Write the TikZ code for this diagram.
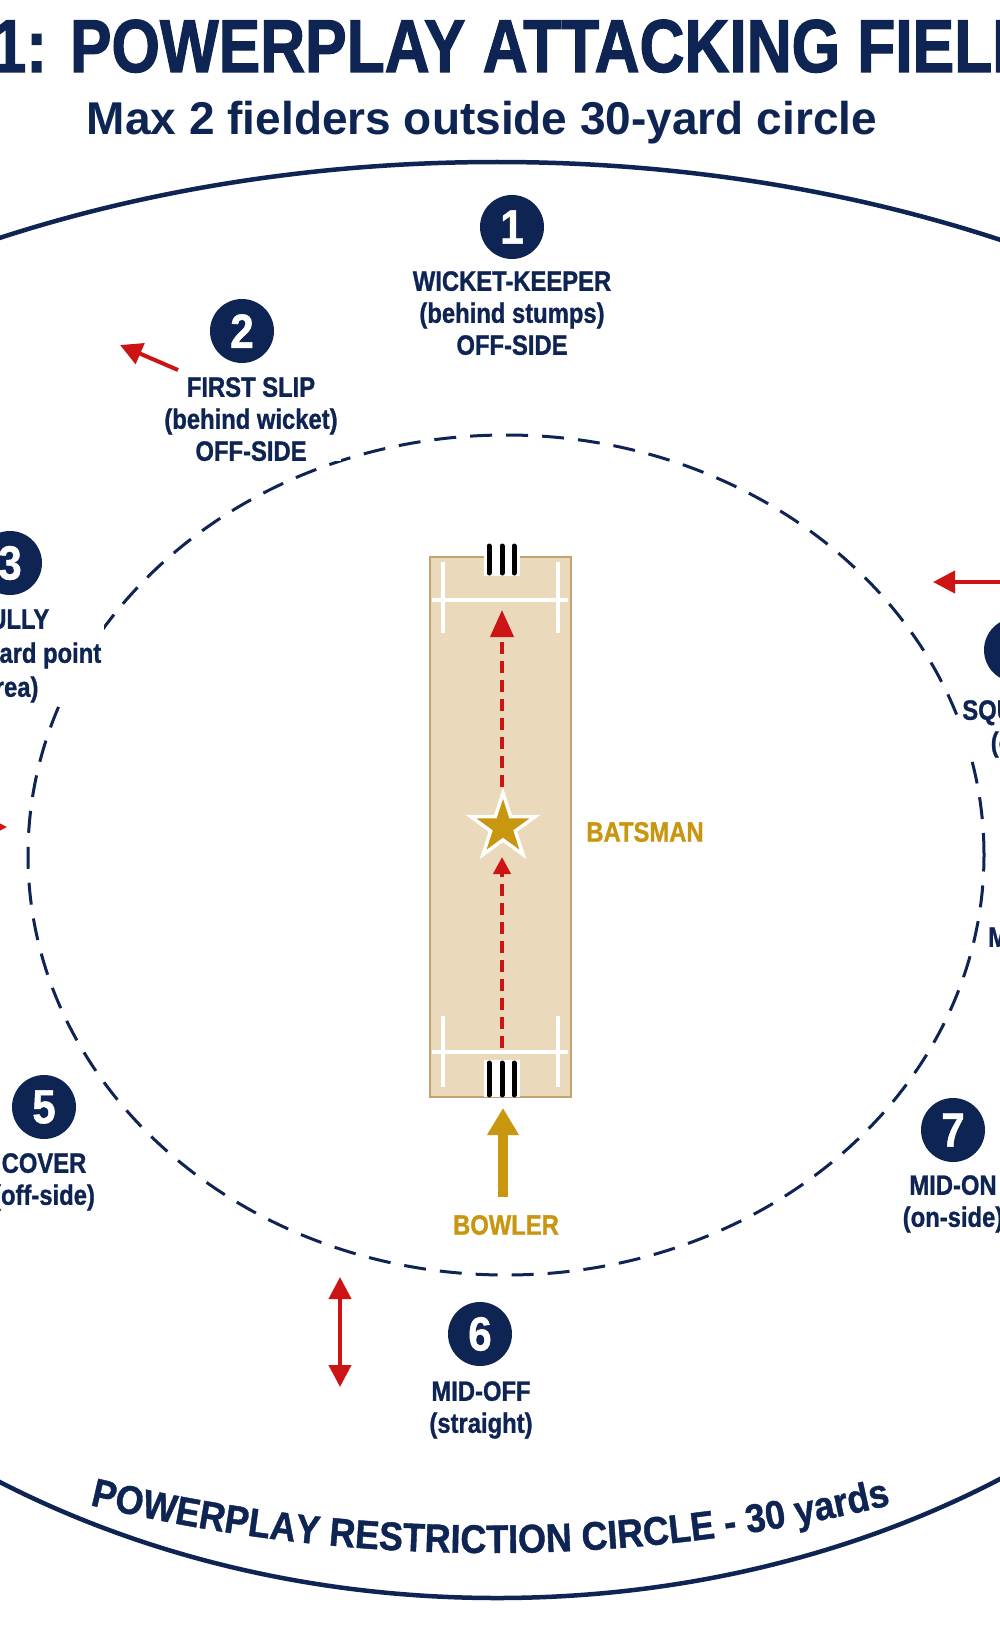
\documentclass[tikz,border=0pt]{standalone}
\usepackage{fontspec}
\usetikzlibrary{arrows.meta,shapes.geometric,decorations.text}
\newfontfamily\labfont[FakeStretch=0.85,FakeBold=1]{Liberation Sans}
\newfontfamily\titfont[FakeStretch=0.83,FakeBold=1.5]{Liberation Sans}
\newfontfamily\numfont[FakeStretch=0.88,FakeBold=1]{Liberation Sans}
\newfontfamily\botfont[FakeStretch=0.9,FakeBold=1]{Liberation Sans}
\newfontfamily\plainfont{Liberation Sans}
\definecolor{navy}{HTML}{0E2452}
\definecolor{fred}{HTML}{CC1414}
\definecolor{gold}{HTML}{C9960F}
\definecolor{pitchfill}{HTML}{EAD9BA}
\definecolor{pitchline}{HTML}{C3A46E}
\begin{document}
\begin{tikzpicture}[x=1pt,y=-1pt,
  numdot/.style={circle, fill=navy, text=white, minimum size=64pt, inner sep=0pt, font=\numfont\bfseries\fontsize{48}{48}\selectfont},
  flab/.style={anchor=north, inner xsep=3pt, inner ysep=0pt, fill=white, align=center, text=navy, font=\labfont\bfseries\fontsize{28}{32}\selectfont},
  goldlab/.style={inner sep=0pt, text=gold, font=\labfont\bfseries\fontsize{28}{32}\selectfont},
  redarrow/.style={draw=fred, line width=4pt, -{Triangle[length=22pt,width=22pt]}},
  reddash/.style={draw=fred, line width=4pt, dash pattern=on 12pt off 7pt},
  crease/.style={draw=white, line width=4pt},
  stumpbar/.style={draw=black, line width=5pt, line cap=round}
]
\useasboundingbox (0,0) rectangle (1000,1632);
\fill[white] (0,0) rectangle (1000,1632);
\clip (0,0) rectangle (1000,1632);

% title and subtitle
\node[anchor=base west, inner sep=0pt, text=navy, font=\titfont\bfseries\fontsize{75}{75}\selectfont] (title) at (-8.6,72) {1: POWERPLAY ATTACKING FIELD};
\node[anchor=base, inner sep=0pt, text=navy, font=\plainfont\bfseries\fontsize{46}{46}\selectfont] (sub) at (482,135) {Max 2 fielders outside 30-yard circle};

% outer boundary
\draw[navy, line width=4.5pt] (-613,880) arc[start angle=180, end angle=0, x radius=1110pt, y radius=718pt];
\draw[navy, line width=4.5pt] (1409,880) arc[start angle=0, end angle=-180, x radius=912pt, y radius=718pt];

% 30-yard circle
\draw[navy, line width=3pt, dash pattern=on 22pt off 14pt] (506,855) ellipse [x radius=478pt, y radius=420pt];

% boundary text
\path[decorate, decoration={text along path, text align=center, text color=navy,
  text={|\botfont\bfseries\fontsize{40}{40}\selectfont|POWERPLAY RESTRICTION CIRCLE - 30 yards}}]
  (490,-139) ++(-115:1692pt) arc[start angle=-115, end angle=-65, radius=1692pt];

% pitch
\node[draw=pitchline, fill=pitchfill, line width=2.5pt, minimum width=141pt, minimum height=540pt, inner sep=0pt] (pitch) at (500.5,827) {};
\draw[crease] (432,600) -- (568,600);
\draw[crease] (443,562) -- (443,633);
\draw[crease] (558,562) -- (558,633);
\draw[crease] (432,1052) -- (568,1052);
\draw[crease] (443,1016) -- (443,1087);
\draw[crease] (558,1016) -- (558,1087);
\fill[white] (484,544) rectangle (520,576);
\draw[stumpbar] (489,546) -- (489,573);
\draw[stumpbar] (502,546) -- (502,573);
\draw[stumpbar] (514,546) -- (514,573);
\fill[white] (484,1060) rectangle (520,1097);
\draw[stumpbar] (489,1063) -- (489,1095);
\draw[stumpbar] (502,1063) -- (502,1095);
\draw[stumpbar] (514,1063) -- (514,1095);

% ball path
\coordinate (r1s) at (502,1048);
\coordinate (r1e) at (502,857);
\coordinate (r2s) at (502,787);
\coordinate (r2e) at (502,610);
\draw[reddash, -{Triangle[length=17pt,width=17pt]}] (r1s) -- (r1e);
\draw[reddash, -{Triangle[length=27pt,width=23pt]}] (r2s) -- (r2e);

% batsman
\node[star, star points=5, star point ratio=2.618, minimum size=68pt, inner sep=0pt, fill=gold, draw=white, line width=3.5pt] (bat) at (503,827) {};
\node[goldlab] (batlab) at (645,832) {BATSMAN};

% bowler
\node[goldlab] (bowlab) at (506,1225) {BOWLER};
\coordinate (bws) at (503,1197);
\coordinate (bwe) at (503,1108);
\draw[gold, line width=10pt, -{Triangle[length=27pt,width=30pt]}] (bws) -- (bwe);

% fielders
\node[numdot] (f1) at (512,227) {1};
\node[flab] (l1) at (512,271) {WICKET-KEEPER\\(behind stumps)\\OFF-SIDE};
\node[numdot] (f2) at (242,331) {2};
\node[flab] (l2) at (251,377) {FIRST SLIP\\(behind wicket)\\OFF-SIDE};
\node[numdot] (f3) at (10,563) {3};
\node[flab, font=\labfont\bfseries\fontsize{28}{34}\selectfont] (l3) at (10,609) {GULLY\\(backward point\\area)};
\node[numdot] (f4) at (1016,650) {4};
\node[flab] (l4) at (1041,700) {SQUARE LEG\\(on-side)};
\node[numdot] (f5) at (44,1107) {5};
\node[flab] (l5) at (44,1153) {COVER\\(off-side)};
\node[numdot] (f6) at (480,1334) {6};
\node[flab] (l6) at (481,1381) {MID-OFF\\(straight)};
\node[numdot] (f7) at (953,1130) {7};
\node[flab] (l7) at (953,1175) {MID-ON\\(on-side)};
\node[flab, anchor=north west] (l8) at (985,927) {MID-WICKET};

% movement arrows
\coordinate (a2s) at (178,370);
\coordinate (a2e) at (120,345);
\draw[redarrow] (a2s) -- (a2e);
\coordinate (a3s) at (-40,827);
\coordinate (a3e) at (7,827);
\draw[redarrow] (a3s) -- (a3e);
\coordinate (a4s) at (1010,582);
\coordinate (a4e) at (933,582);
\draw[redarrow] (a4s) -- (a4e);
\coordinate (a6s) at (340,1387);
\coordinate (a6e) at (340,1277);
\draw[draw=fred, line width=4pt, {Triangle[length=22pt,width=22pt]}-{Triangle[length=22pt,width=22pt]}] (a6s) -- (a6e);
\end{tikzpicture}
\end{document}
